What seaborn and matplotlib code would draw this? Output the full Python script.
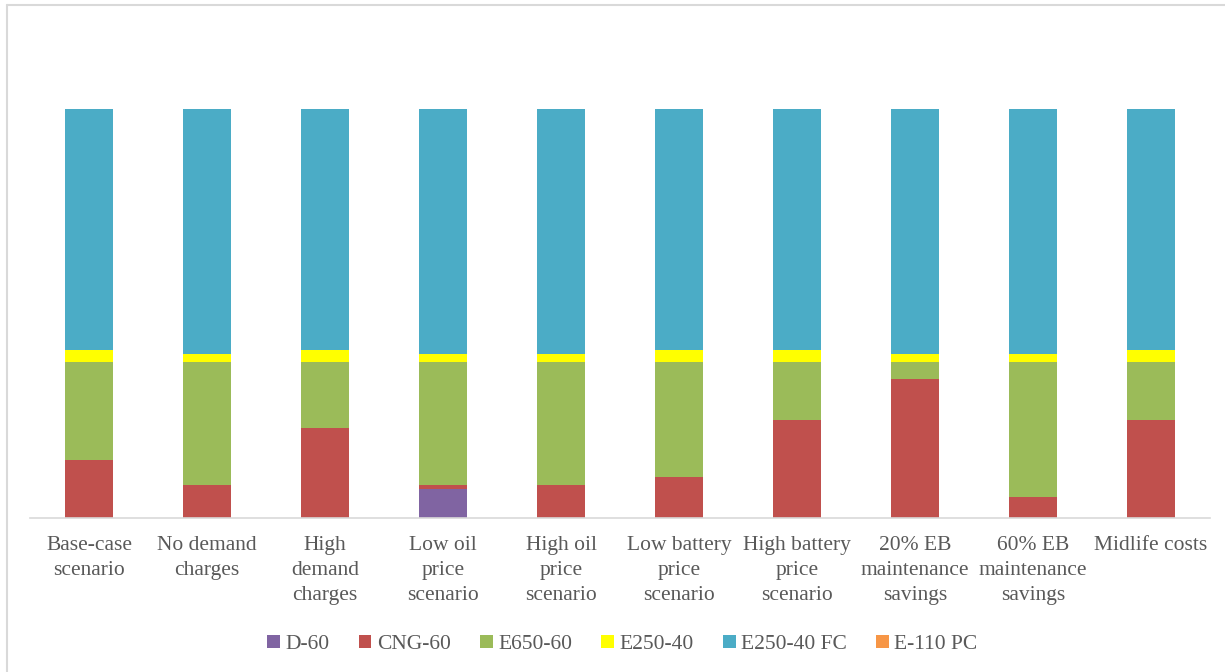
import numpy as np
import seaborn as sns
import matplotlib.pyplot as plt
from matplotlib.patches import Patch
from matplotlib.lines import Line2D

scenarios = ["Base-case\nscenario", "No demand\ncharges", "High\ndemand\ncharges",
             "Low oil\nprice\nscenario", "High oil\nprice\nscenario",
             "Low battery\nprice\nscenario", "High battery\nprice\nscenario",
             "20% EB\nmaintenance\nsavings", "60% EB\nmaintenance\nsavings",
             "Midlife costs"]

# fleet share (%) per bus type
d60 = [0, 0, 0, 7, 0, 0, 0, 0, 0, 0]
cng60 = [14, 8, 22, 1, 8, 10, 24, 34, 5, 24]
e650_60 = [24, 30, 16, 30, 30, 28, 14, 4, 33, 14]
e250_40 = [3, 2, 3, 2, 2, 3, 3, 2, 2, 3]
e250_40_fc = [59, 60, 59, 60, 60, 59, 59, 60, 60, 59]
e110_pc = [0, 0, 0, 0, 0, 0, 0, 0, 0, 0]

series = ["D-60", "CNG-60", "E650-60", "E250-40", "E250-40 FC", "E-110 PC"]
colors = ["#8064A2", "#C0504D", "#9BBB59", "#FFFF00", "#4BACC6", "#F79646"]

sns.set_theme(style="white")
plt.rcParams["font.family"] = ["Liberation Serif", "DejaVu Serif"]
txt = "#595959"

fig = plt.figure(figsize=(12.25, 6.72), dpi=100)
ax = fig.add_axes([0.0245, 0.2296, 0.9633, 0.6086])

bottom = np.zeros(len(scenarios))
for name, vals, col in zip(series, [d60, cng60, e650_60, e250_40, e250_40_fc, e110_pc], colors):
    sns.barplot(x=scenarios, y=vals, bottom=bottom, color=col, width=0.4,
                linewidth=0, saturation=1, ax=ax)
    bottom = bottom + np.array(vals)

ax.set_ylim(0, 100)
ax.set_xlim(-0.5, len(scenarios) - 0.5)
ax.set_yticks([])
for s in ["top", "right", "left"]:
    ax.spines[s].set_visible(False)
ax.spines["bottom"].set_color("#D9D9D9")
ax.spines["bottom"].set_linewidth(1.2)
ax.tick_params(axis="x", length=0, pad=13, labelsize=15.5, labelcolor=txt)
for lab in ax.get_xticklabels():
    lab.set_linespacing(1.45)

handles = [Patch(facecolor=c, edgecolor="none") for c in colors]
fig.legend(handles, series, loc="center", bbox_to_anchor=(0.508, 0.041), ncol=6,
           frameon=False, fontsize=15.5, handlelength=0.6, handleheight=0.6,
           handletextpad=0.25, columnspacing=1.35, labelcolor=txt)

# chart-area border (top and left visible)
fig.add_artist(Line2D([7 / 1225, 1], [1 - 5 / 672, 1 - 5 / 672], color="#D9D9D9", lw=1.5))
fig.add_artist(Line2D([7 / 1225, 7 / 1225], [0, 1 - 5 / 672], color="#D9D9D9", lw=1.5))

fig.savefig("out.png", dpi=100)
